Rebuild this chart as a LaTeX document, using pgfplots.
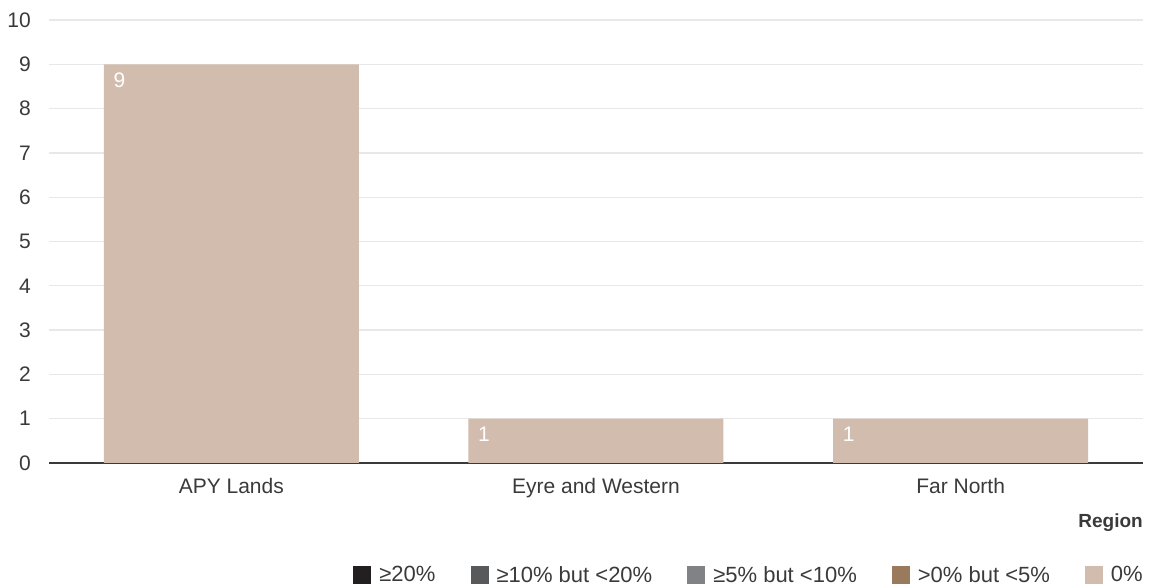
\documentclass[border=0pt]{standalone}
\usepackage{fontspec}
\setmainfont{Liberation Sans}
\usepackage{pgfplots}
\pgfplotsset{compat=1.18}
\definecolor{barc}{HTML}{D1BCAE}
\definecolor{cA}{HTML}{231F20}
\definecolor{cB}{HTML}{58595B}
\definecolor{cC}{HTML}{808285}
\definecolor{cD}{HTML}{9A7A5C}
\definecolor{cE}{HTML}{D1BCAE}
\definecolor{txt}{HTML}{3A3A3A}
\definecolor{gridc}{HTML}{E8E8E8}
\begin{document}
\begin{tikzpicture}
\path[use as bounding box] (0,0) rectangle (1153pt,586pt);
\begin{axis}[
  at={(49pt,123pt)}, anchor=south west,
  scale only axis, width=1094pt, height=443pt,
  xmin=-0.5, xmax=2.5, ymin=0, ymax=10,
  ybar, bar width=255pt,
  xtick=data, xticklabels={APY Lands, Eyre and Western, Far North},
  ytick={0,1,...,10},
  major tick length=0pt,
  ymajorgrids, grid style={gridc, line width=1.3pt},
  axis x line*=bottom, axis y line*=left,
  x axis line style={draw=txt, line width=1.8pt},
  y axis line style={draw=none},
  /pgf/number format/assume math mode=true,
  tick label style={font=\fontsize{21}{24}\selectfont, text=txt},
  yticklabel style={inner sep=0pt, xshift=-18pt},
  xticklabel style={inner sep=0pt, anchor=north, yshift=-15pt},
  xlabel={Region},
  x label style={at={(rel axis cs:1,0)}, anchor=base east, yshift=-64pt, inner sep=0pt, font=\bfseries\fontsize{19}{22}\selectfont, text=txt},
  legend columns=5,
  legend style={at={(rel axis cs:1,-0.2528)}, anchor=east, draw=none, fill=none, inner sep=0pt,
    font=\fontsize{22}{24}\selectfont, text=txt,
    nodes={inner sep=0pt},
    /tikz/every odd column/.append style={column sep=8pt},
    /tikz/every even column/.append style={column sep=35pt}},
  legend image code/.code={\fill[#1] (0pt,-9pt) rectangle (18pt,9pt);},
]
\addplot[fill=barc, draw=none, bar shift=0pt, forget plot,
  nodes near coords,
  nodes near coords style={anchor=north west, inner sep=0pt, xshift=-118pt, yshift=-8pt, text=white, font=\fontsize{21}{24}\selectfont}]
  coordinates {(0,9) (1,1) (2,1)};
\addlegendimage{fill=cA, draw=none}
\addlegendentry{≥20\%}
\addlegendimage{fill=cB, draw=none}
\addlegendentry{≥10\% but <20\%}
\addlegendimage{fill=cC, draw=none}
\addlegendentry{≥5\% but <10\%}
\addlegendimage{fill=cD, draw=none}
\addlegendentry{>0\% but <5\%}
\addlegendimage{fill=cE, draw=none}
\addlegendentry{0\%}
\end{axis}
\end{tikzpicture}
\end{document}
